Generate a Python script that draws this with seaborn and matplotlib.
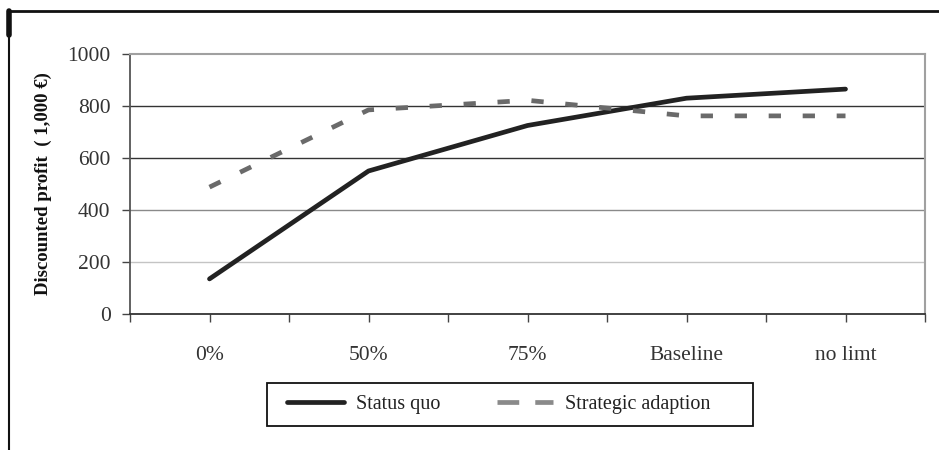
import matplotlib
matplotlib.use("Agg")
import matplotlib.pyplot as plt
import seaborn as sns
import pandas as pd
from matplotlib.lines import Line2D
from matplotlib.patches import Rectangle

categories = ["0%", "50%", "75%", "Baseline", "no limt"]
status_quo = [135, 550, 725, 830, 865]
strategic_adaption = [488, 785, 822, 762, 762]
y_ticks = [0, 200, 400, 600, 800, 1000]

df = pd.DataFrame({
    "scenario": categories * 2,
    "profit": status_quo + strategic_adaption,
    "series": ["Status quo"] * len(categories) + ["Strategic adaption"] * len(categories),
})

sns.set_theme(style="white")
plt.rcParams["font.family"] = ["Liberation Serif", "DejaVu Serif"]

fig = plt.figure(figsize=(9.39, 4.5), dpi=100)
ax = fig.add_axes([130 / 939, 1 - 314 / 450, (925 - 130) / 939, (314 - 54) / 450])

# gridlines (scan shows different darkness)
grid_cols = {200: "#c4c4c4", 400: "#8a8a8a", 600: "#333333", 800: "#333333"}
for v, c in grid_cols.items():
    ax.axhline(v, color=c, lw=1.0, zorder=0)

sns.lineplot(data=df[df.series == "Status quo"], x="scenario", y="profit",
             color="#222222", lw=3.4, ax=ax, sort=False, legend=False)
sns.lineplot(data=df[df.series == "Strategic adaption"], x="scenario", y="profit",
             color="#6a6a6a", lw=3.4, ax=ax, sort=False, legend=False)
ax.lines[-1].set_dashes((2.6, 4.6))
ax.lines[-1].set_dash_capstyle("butt")

ax.set_xlim(-0.5, len(categories) - 0.5)
ax.set_ylim(0, 1000)
ax.set_xticks(range(len(categories)))
ax.set_xticklabels(categories)
ax.set_xticks([i + 0.5 for i in range(-1, len(categories))], minor=True)
ax.set_yticks(y_ticks)
ax.set_yticklabels([str(v) for v in y_ticks])

ax.tick_params(axis="x", which="both", direction="out", length=6, width=1,
               color="#444444", labelsize=15.5, labelcolor="#333333", pad=17, bottom=True)
ax.tick_params(axis="y", direction="out", length=6, width=1, color="#444444",
               labelsize=15.5, labelcolor="#333333", pad=8, left=True)

ax.set_xlabel("")
ax.set_ylabel("Discounted profit  ( 1,000 €)", fontsize=13.5, fontweight="bold",
              color="#111111")
ax.yaxis.set_label_coords((52 - 130) / 795, 0.5)

for side in ["top", "right"]:
    ax.spines[side].set_visible(True)
    ax.spines[side].set_color("#a0a0a0")
    ax.spines[side].set_linewidth(1.5)
ax.spines["left"].set_color("#555555")
ax.spines["left"].set_linewidth(1.3)
ax.spines["bottom"].set_color("#333333")
ax.spines["bottom"].set_linewidth(1.3)

handles = [
    Line2D([], [], color="#222222", lw=3.4),
    Line2D([], [], color="#8a8a8a", lw=3.4, dashes=(4.6, 3.4), dash_capstyle="butt"),
]
leg = fig.legend(handles, ["Status quo", "Strategic adaption"], loc="center",
                 bbox_to_anchor=(499 / 939, 1 - 404.5 / 450), ncol=2,
                 fontsize=14.5, frameon=False, handlelength=2.8,
                 columnspacing=2.8, handletextpad=0.6, borderpad=0.3,
                 borderaxespad=0)
for t in leg.get_texts():
    t.set_color("#222222")

# legend box as in the reference (wider on the right)
fig.add_artist(Rectangle((267 / 939, 1 - 426 / 450), (753 - 267) / 939, 43 / 450,
                         fill=False, edgecolor="#111111", lw=1.3,
                         transform=fig.transFigure))

# outer scan frame lines
fig.add_artist(Line2D([8 / 939, 1.0], [1 - 11 / 450] * 2, color="#111111", lw=2.0,
                      transform=fig.transFigure))
fig.add_artist(Line2D([9 / 939] * 2, [1 - 11 / 450, 1 - 35 / 450], color="#111111", lw=4.0,
                      transform=fig.transFigure))
fig.add_artist(Line2D([8.5 / 939] * 2, [1 - 35 / 450, 0], color="#111111", lw=1.5,
                      transform=fig.transFigure))

fig.savefig("out.png", dpi=100)
